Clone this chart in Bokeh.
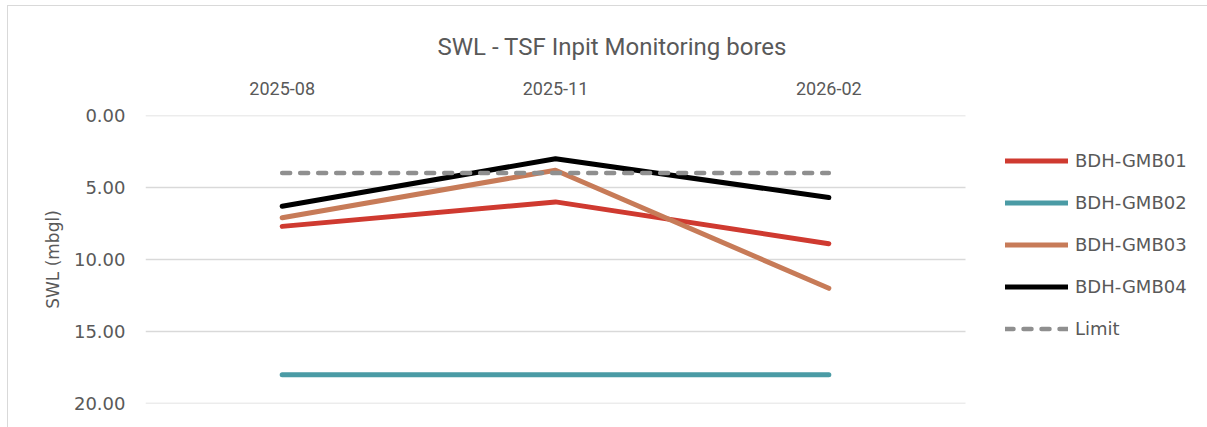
from bokeh.plotting import figure
from bokeh.models import Range1d, FixedTicker, PrintfTickFormatter
from bokeh.embed import file_html
from bokeh.resources import INLINE

# ---- data ----
title_text = "SWL - TSF Inpit Monitoring bores"
y_title = "SWL (mbgl)"
months = ["2025-08", "2025-11", "2026-02"]
gmb01 = [7.7, 6.0, 8.9]
gmb02 = [18.0, 18.0, 18.0]
gmb03 = [7.1, 3.8, 12.0]
gmb04 = [6.3, 3.0, 5.7]
limit = [4.0, 4.0, 4.0]
series_names = ["BDH-GMB01", "BDH-GMB02", "BDH-GMB03", "BDH-GMB04", "Limit"]
y_ticks = [0, 5, 10, 15, 20]

# ---- styles ----
grey_text = "#595959"
grid_col = "#d9d9d9"
colors = ["#CF3A30", "#4A9BA5", "#C77B58", "#000000", "#8F8F8F"]

W, H = 1207, 427
left, top, bottom = 145, 115, 24
cat_px = 820 / len(months)           # width of one category slot in px
x_idx = list(range(len(months)))
x_span = (W - left) / cat_px

p = figure(width=W, height=H,
           x_range=Range1d(-0.5, -0.5 + x_span),
           y_range=Range1d(20, 0),
           x_axis_location="above",
           output_backend="svg", toolbar_location=None,
           min_border_left=left, min_border_right=0,
           min_border_top=top, min_border_bottom=bottom)

p.outline_line_color = None
p.background_fill_alpha = 0
p.border_fill_alpha = 0
p.styles = {
    "background": ("linear-gradient(#d9d9d9,#d9d9d9) 7px 5px / 100% 1px no-repeat, "
                   "linear-gradient(#d9d9d9,#d9d9d9) 7px 5px / 1px 100% no-repeat, white"),
}

# title
p.title.text = title_text
p.title.align = "left"
p.title.offset = 292
p.title.standoff = 36
p.title.text_font = "Roboto"
p.title.text_font_size = "24px"
p.title.text_font_style = "normal"
p.title.text_color = grey_text

# x axis (categories on top)
xa = p.xaxis[0]
xa.ticker = FixedTicker(ticks=x_idx)
xa.major_label_overrides = {i: m for i, m in zip(x_idx, months)}
xa.axis_line_color = None
xa.major_tick_line_color = None
xa.minor_tick_line_color = None
xa.major_tick_out = 0
xa.major_tick_in = 0
xa.minor_tick_out = 0
xa.major_label_standoff = 21
xa.major_label_text_font = "Roboto"
xa.major_label_text_font_size = "18px"
xa.major_label_text_color = grey_text

# y axis
ya = p.yaxis[0]
ya.ticker = FixedTicker(ticks=y_ticks)
ya.formatter = PrintfTickFormatter(format="%.2f")
ya.axis_line_color = None
ya.major_tick_line_color = None
ya.minor_tick_line_color = None
ya.major_tick_out = 0
ya.major_tick_in = 0
ya.minor_tick_out = 0
ya.major_label_standoff = 20
ya.major_label_text_font = "DejaVu Sans"
ya.major_label_text_font_size = "18px"
ya.major_label_text_color = grey_text
ya.axis_label = y_title
ya.axis_label_standoff = 8
ya.axis_label_text_font = "DejaVu Sans"
ya.axis_label_text_font_size = "17px"
ya.axis_label_text_font_style = "normal"
ya.axis_label_text_color = grey_text

p.xgrid.visible = False
p.ygrid.visible = False

# horizontal gridlines spanning the category area only
n = len(y_ticks)
p.segment(x0=[-0.5] * n, x1=[len(months) - 0.5] * n, y0=y_ticks, y1=y_ticks,
          line_color=grid_col, line_width=1.5)

series = [gmb01, gmb02, gmb03, gmb04, limit]
for name, vals, col in zip(series_names, series, colors):
    kw = dict(line_color=col, line_width=5, line_cap="round", line_join="round",
              legend_label=name)
    if name == "Limit":
        kw["line_dash"] = "8 10"
        kw["line_width"] = 4.5
    p.line(x_idx, vals, **kw)

lg = p.legend[0]
lg.location = (860, 64)
lg.glyph_width = 63
lg.glyph_height = 21
lg.label_height = 21
lg.label_standoff = 7
lg.spacing = 21
lg.padding = 0
lg.margin = 0
lg.border_line_color = None
lg.background_fill_alpha = 0
lg.label_text_font = "DejaVu Sans"
lg.label_text_font_size = "18px"
lg.label_text_color = grey_text

open("out.html", "w").write(file_html(p, INLINE))
